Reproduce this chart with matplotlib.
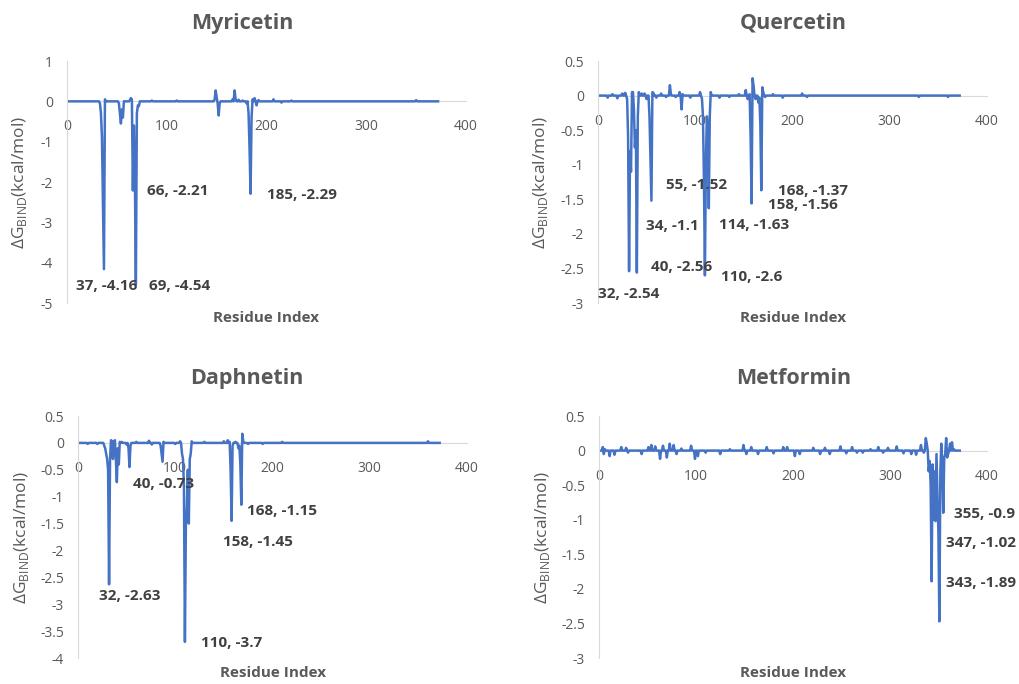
import matplotlib
matplotlib.use("Agg")
import matplotlib.pyplot as plt
import numpy as np

plt.rcParams['font.family'] = ['Open Sans', 'DejaVu Sans']

n_residues = 372

# Myricetin: residues that leave the zero line, and their values
myr_res = [33, 34, 35, 36, 37, 38, 52, 53, 54, 55, 56, 63, 64, 65, 66, 67, 68, 69, 70, 71, 72,
           85, 110, 148, 149, 150, 151, 152, 153, 166, 168, 169, 172, 176, 180,
           182, 183, 184, 185, 186, 188, 190, 192, 207, 215, 225, 350]
myr_val = [-0.05, -0.3, -0.9, -2.5, -4.16, 0.05, -0.05, -0.3, -0.55, -0.2, -0.4, 0.03, 0.08, 0.05, -2.21,
           -0.6, -1.8, -4.54, -0.3, -0.1, -0.12, 0.02, 0.02, 0.05, 0.27, 0.1, -0.05, -0.35, -0.05,
           0.05, 0.27, 0.05, 0.04, 0.02, -0.05, -0.3, -1.2, -2.29, -0.4, 0.05, 0.08, -0.1, 0.03,
           0.05, -0.03, 0.02, 0.03]
myr_labels = [("37, -4.16", 9, -4.57), ("69, -4.54", 82.5, -4.57),
              ("66, -2.21", 80, -2.23), ("185, -2.29", 200, -2.32)]

# Quercetin
que_res = [10, 15, 20, 25, 28, 30, 31, 32, 33, 34, 35, 36, 37, 38, 39, 40, 41, 42, 45, 48,
           50, 53, 54, 55, 56, 57, 60, 65, 70, 74, 75, 80, 84, 86, 87, 95, 105, 107, 108, 109,
           110, 111, 112, 113, 114, 115, 116, 125, 135, 145, 152, 154, 156, 157, 158, 159, 160,
           162, 165, 166, 167, 168, 169, 170, 172, 180, 190, 210, 215, 330, 360]
que_val = [-0.03, 0.02, -0.04, 0.03, 0.04, -0.05, -0.6, -2.54, -0.8, -1.1, 0.05, 0.05, -0.2, -0.75, -0.5,
           -2.56, -0.3, 0.05, 0.03, 0.03, -0.05, -0.3, -0.9, -1.52, 0.05, 0.04, -0.03, 0.03, -0.02,
           0.15, 0.02, -0.02, 0.05, -0.2, 0.02, -0.03, 0.05, -0.05, -0.3, -1.2, -2.6, -1.0,
           -0.3, -0.5, -1.63, -0.3, 0.05, -0.03, -0.02, 0.02, 0.08, -0.05, 0.02, -0.6, -1.56,
           0.25, 0.15, -0.05, -0.1, -0.03, -0.4, -1.37, 0.12, 0.05, -0.02, 0.02, -0.03, 0.03,
           -0.02, -0.02, -0.02]
que_labels = [("55, -1.52", 69.6, -1.30), ("168, -1.37", 185.4, -1.38),
              ("158, -1.56", 175.1, -1.58), ("34, -1.1", 49.4, -1.89),
              ("114, -1.63", 124.8, -1.87), ("40, -2.56", 54.2, -2.48),
              ("110, -2.6", 126.5, -2.62), ("32, -2.54", 0.3, -2.87)]

# Daphnetin
dap_res = [10, 20, 27, 28, 29, 30, 31, 32, 33, 34, 35, 36, 37, 38, 39, 40, 41, 42, 43, 45,
           50, 52, 53, 54, 60, 73, 76, 85, 86, 87, 88, 100, 105, 107, 108, 109, 110, 111, 112,
           113, 114, 115, 116, 117, 130, 150, 154, 156, 157, 158, 159, 162, 165, 166, 167, 168,
           169, 170, 175, 190, 210, 360]
dap_val = [-0.02, -0.02, -0.05, -0.1, -0.2, -0.3, -0.5, -2.63, -0.3, 0.05, 0.03, -0.3, 0.03, 0.05, -0.3,
           -0.73, -0.1, -0.4, 0.02, 0.02, -0.03, -0.1, -0.45, -0.05, 0.02, 0.04, -0.03, -0.05, -0.2,
           -0.35, 0.02, -0.02, 0.03, -0.2, -0.3, -0.8, -3.7, -1.5, -1.2, -0.5, -1.5, -0.3, -0.2, 0.03,
           0.02, 0.03, 0.05, 0.02, -0.5, -1.45, -0.05, 0.02, -0.1, -0.05, -0.4, -1.15, 0.17, 0.03,
           -0.02, -0.02, 0.02, 0.03]
dap_labels = [("40, -0.73", 56.2, -0.76), ("168, -1.15", 174.1, -1.26),
              ("158, -1.45", 148.8, -1.85), ("32, -2.63", 21.6, -2.84),
              ("110, -3.7", 126.2, -3.72)]

# Metformin
met_res = [4, 5, 6, 11, 16, 23, 28, 30, 44, 51, 54, 58, 63, 66, 70, 73, 77, 80, 85, 95, 99,
           102, 110, 125, 135, 149, 152, 157, 164, 173, 180, 190, 194, 202, 207, 221, 228, 233,
           238, 249, 255, 261, 266, 272, 280, 288, 293, 298, 307, 314, 322, 327, 332, 335, 337,
           338, 340, 341, 342, 343, 344, 345, 346, 347, 348, 349, 350, 351, 352, 353, 354, 355,
           356, 357, 358, 359, 360, 362, 364, 366]
met_val = [0.05, -0.05, 0.02, -0.08, -0.06, 0.05, 0.04, -0.03, -0.05, 0.05, 0.08, 0.06, -0.12, 0.07,
           -0.1, 0.1, 0.08, -0.05, 0.03, 0.07, -0.12, -0.08, -0.03, -0.05, 0.02, 0.08, -0.05, 0.05,
           -0.05, 0.05, -0.04, 0.05, 0.05, -0.08, -0.05, 0.04, -0.05, 0.04, -0.05, 0.06, -0.04,
           0.05, -0.03, -0.03, 0.02, 0.05, -0.03, 0.04, 0.06, -0.04, -0.05, -0.06, 0.08, -0.03,
           0.18, 0.1, -0.3, -0.15, -0.5, -1.89, -0.2, -1.0, -0.3, -1.02, -0.05, -0.6, -1.2, -2.47,
           -0.3, 0.1, -0.2, -0.9, -0.1, -0.05, 0.18, -0.1, -0.05, 0.1, 0.12, 0.02]
met_labels = [("355, -0.9", 366.3, -0.92), ("347, -1.02", 357.7, -1.34),
              ("343, -1.89", 357.7, -1.92)]

titles = ["Myricetin", "Quercetin", "Daphnetin", "Metformin"]
ylims = [(-5, 1), (-3, 0.5), (-4, 0.5), (-3, 0.5)]
yticks = [np.arange(-5, 1.01, 1), np.arange(-3, 0.51, 0.5), np.arange(-4, 0.51, 0.5), np.arange(-3, 0.51, 0.5)]
series = [(myr_res, myr_val, myr_labels), (que_res, que_val, que_labels),
          (dap_res, dap_val, dap_labels), (met_res, met_val, met_labels)]

# axes boxes in figure fraction: left, bottom, width, height
boxes = [[0.0658, 0.557, 0.3915, 0.3538], [0.5868, 0.557, 0.3817, 0.3538],
         [0.0765, 0.038, 0.3817, 0.3538], [0.5878, 0.038, 0.3807, 0.3538]]
title_xy = [(242, 23), (793, 23), (247, 378), (794, 378)]
xlabel_xy = [(266, 318), (793, 318), (273, 673), (793, 673)]
ylabel_xy = [(20, 183), (540, 183), (22, 538), (542, 538)]

W, H = 1019, 684
fig = plt.figure(figsize=(W / 100, H / 100), dpi=100)

gray = "#595959"
dark = "#404040"
for i in range(4):
    res, val, labels = series[i]
    x = np.arange(1, n_residues + 1)
    y = np.zeros(n_residues)
    for r, v in zip(res, val):
        y[r - 1] = v

    ax = fig.add_axes(boxes[i])
    ax.plot(x, y, color="#4472C4", lw=1.8)
    ax.set_xlim(0, 400)
    ax.set_ylim(*ylims[i])
    ax.set_yticks(yticks[i])
    ax.set_yticklabels([f"{t:g}" for t in yticks[i]])
    ax.set_xticks([0, 100, 200, 300, 400])
    for s in ["top", "right"]:
        ax.spines[s].set_visible(False)
    ax.spines["bottom"].set_position(("data", 0))
    ax.spines["bottom"].set_color("#d9d9d9")
    ax.spines["left"].set_color("#d9d9d9")
    ax.spines["bottom"].set_zorder(0)
    ax.tick_params(axis="both", length=0, labelsize=10, labelcolor=gray)
    ax.tick_params(axis="x", pad=13)
    ax.tick_params(axis="y", pad=10)

    for txt, tx, ty in labels:
        ax.text(tx, ty, txt, fontsize=11, fontweight="bold", color=dark,
                ha="left", va="center", clip_on=False)

    fig.text(title_xy[i][0] / W, 1 - title_xy[i][1] / H, titles[i], fontsize=15.5,
             fontweight="bold", color=gray, ha="center", va="center")
    fig.text(xlabel_xy[i][0] / W, 1 - xlabel_xy[i][1] / H, "Residue Index", fontsize=11,
             fontweight="bold", color=gray, ha="center", va="center")
    fig.text(ylabel_xy[i][0] / W, 1 - ylabel_xy[i][1] / H,
             r"ΔG$_{\mathregular{BIND}}$(kcal/mol)", fontsize=12.5, color=gray,
             rotation=90, ha="center", va="center")

fig.savefig("out.png", dpi=100)
